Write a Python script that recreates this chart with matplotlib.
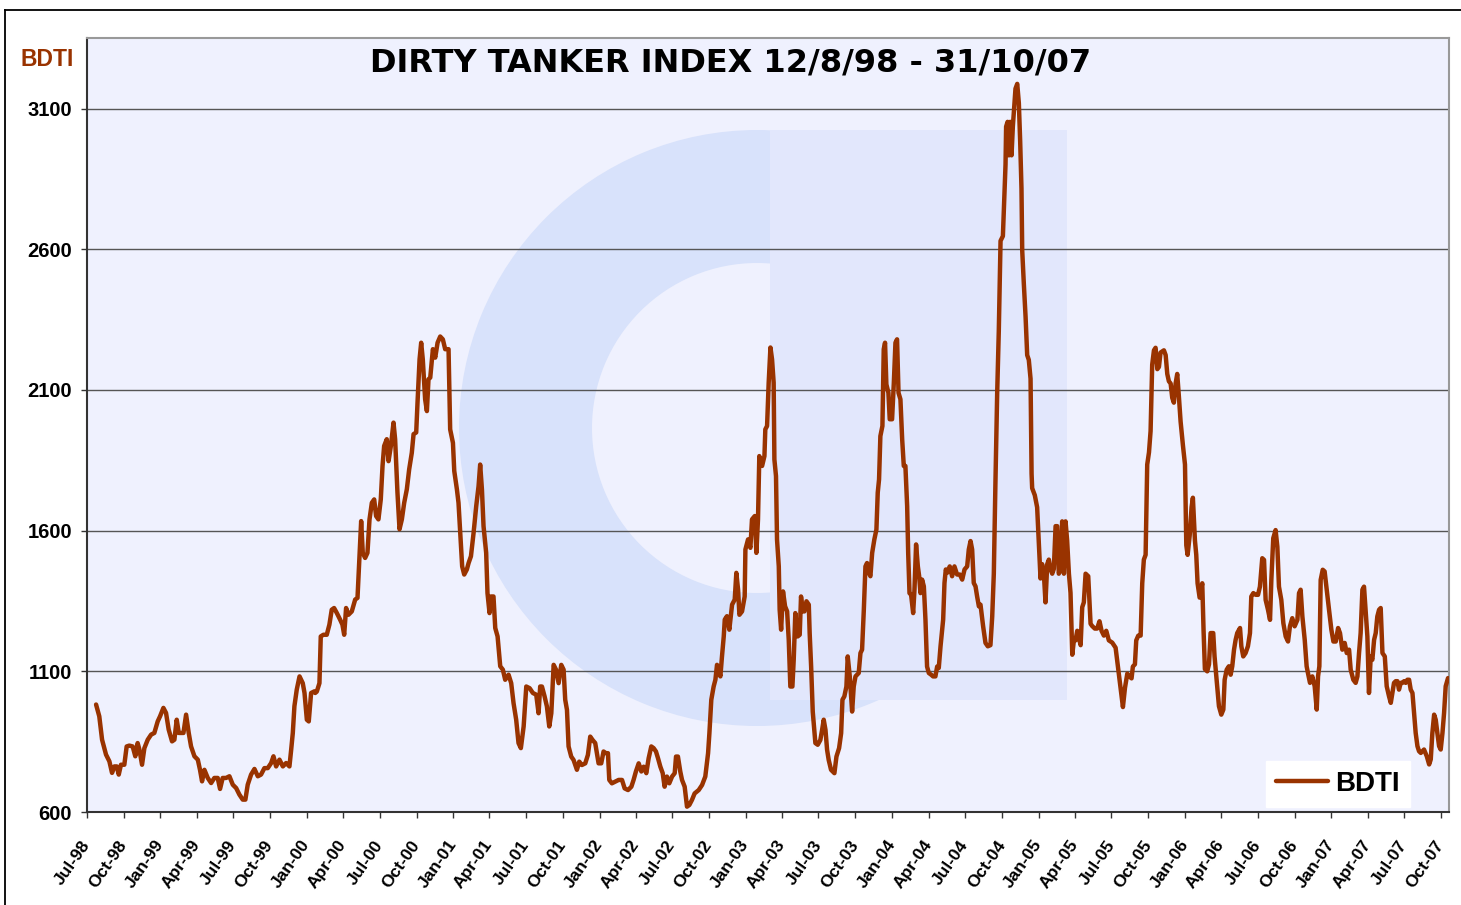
import matplotlib
matplotlib.use('Agg')
import matplotlib.pyplot as plt
import matplotlib.dates as mdates
from matplotlib.patches import Wedge, Rectangle
from matplotlib.lines import Line2D
from matplotlib.transforms import Affine2D
import numpy as np
import pandas as pd

# BDTI weekly values (date as decimal year)
years = [
    1998.564, 1998.586, 1998.605, 1998.632, 1998.655, 1998.673, 1998.689, 1998.705, 1998.719, 1998.734,
    1998.757, 1998.773, 1998.791, 1998.814, 1998.832, 1998.848, 1998.860, 1998.878, 1998.894, 1998.917,
    1998.940, 1998.962, 1998.985, 1999.001, 1999.024, 1999.042, 1999.060, 1999.083, 1999.099, 1999.115,
    1999.129, 1999.145, 1999.161, 1999.179, 1999.197, 1999.213, 1999.236, 1999.259, 1999.274, 1999.288,
    1999.304, 1999.327, 1999.350, 1999.372, 1999.395, 1999.411, 1999.429, 1999.452, 1999.475, 1999.498,
    1999.521, 1999.543, 1999.566, 1999.584, 1999.600, 1999.623, 1999.646, 1999.669, 1999.691, 1999.714,
    1999.737, 1999.760, 1999.776, 1999.794, 1999.817, 1999.840, 1999.862, 1999.885, 1999.897, 1999.908,
    1999.919, 1999.935, 1999.954, 1999.976, 1999.988, 2000.004, 2000.017, 2000.033, 2000.056,
    2000.061, 2000.072, 2000.090, 2000.099, 2000.117, 2000.140, 2000.158, 2000.174, 2000.190, 2000.209,
    2000.231, 2000.247, 2000.259, 2000.272, 2000.288, 2000.311, 2000.334, 2000.350, 2000.364, 2000.375,
    2000.386, 2000.402, 2000.418, 2000.432, 2000.448, 2000.464, 2000.477, 2000.493, 2000.509, 2000.521,
    2000.532, 2000.550, 2000.562, 2000.578, 2000.596, 2000.607, 2000.623, 2000.637, 2000.653, 2000.669,
    2000.687, 2000.703, 2000.721, 2000.733, 2000.751, 2000.760, 2000.774, 2000.785, 2000.796, 2000.812,
    2000.824, 2000.835, 2000.847, 2000.865, 2000.881, 2000.897, 2000.915, 2000.933, 2000.949, 2000.972,
    2000.983, 2001.002, 2001.011, 2001.029, 2001.040, 2001.052, 2001.065, 2001.079, 2001.097, 2001.109,
    2001.125, 2001.143, 2001.161, 2001.177, 2001.188, 2001.200, 2001.211, 2001.229, 2001.238, 2001.252,
    2001.261, 2001.279, 2001.291, 2001.307, 2001.325, 2001.343, 2001.359, 2001.382, 2001.400, 2001.416,
    2001.434, 2001.450, 2001.466, 2001.485, 2001.503, 2001.526, 2001.548, 2001.571, 2001.587, 2001.598,
    2001.610, 2001.628, 2001.644, 2001.660, 2001.674, 2001.690, 2001.706, 2001.724, 2001.742, 2001.758,
    2001.769, 2001.781, 2001.792, 2001.810, 2001.826, 2001.849, 2001.865, 2001.883, 2001.906, 2001.924,
    2001.940, 2001.956, 2001.974, 2001.997, 2002.015, 2002.031, 2002.047, 2002.061, 2002.070, 2002.088,
    2002.111, 2002.134, 2002.157, 2002.175, 2002.198, 2002.221, 2002.236, 2002.252, 2002.271, 2002.289,
    2002.305, 2002.323, 2002.339, 2002.357, 2002.373, 2002.389, 2002.403, 2002.419, 2002.435, 2002.448,
    2002.464, 2002.480, 2002.499, 2002.517, 2002.526, 2002.539, 2002.555, 2002.567, 2002.585, 2002.601,
    2002.617, 2002.635, 2002.653, 2002.681, 2002.704, 2002.726, 2002.745, 2002.754, 2002.767, 2002.783,
    2002.795, 2002.806, 2002.817, 2002.829, 2002.840, 2002.852, 2002.859, 2002.874, 2002.890, 2002.909,
    2002.927, 2002.938, 2002.950, 2002.959, 2002.977, 2002.995, 2003.000, 2003.018, 2003.034, 2003.045,
    2003.064, 2003.075, 2003.086, 2003.095,
    2003.114, 2003.130, 2003.136, 2003.148, 2003.159, 2003.171, 2003.182, 2003.193, 2003.198, 2003.209,
    2003.216, 2003.228, 2003.234, 2003.244, 2003.257, 2003.271, 2003.285, 2003.296, 2003.307, 2003.321,
    2003.330, 2003.341, 2003.357, 2003.371, 2003.380, 2003.392, 2003.403, 2003.417, 2003.433, 2003.439,
    2003.449, 2003.460, 2003.478, 2003.494, 2003.512, 2003.524, 2003.535, 2003.547, 2003.558, 2003.569,
    2003.585, 2003.608, 2003.622, 2003.640, 2003.654, 2003.663, 2003.676, 2003.690, 2003.699, 2003.713,
    2003.729, 2003.740, 2003.752, 2003.774, 2003.786, 2003.797, 2003.809, 2003.820, 2003.831, 2003.843,
    2003.854, 2003.866, 2003.881, 2003.895, 2003.904, 2003.913, 2003.922, 2003.936, 2003.945, 2003.954,
    2003.963, 2003.977, 2003.986, 2004.002, 2004.014, 2004.025, 2004.036, 2004.046, 2004.059, 2004.071,
    2004.082, 2004.093, 2004.105, 2004.112, 2004.121, 2004.132, 2004.146, 2004.155, 2004.166, 2004.178,
    2004.187, 2004.196, 2004.207, 2004.219, 2004.230, 2004.241, 2004.253, 2004.269, 2004.282, 2004.298,
    2004.310, 2004.321, 2004.333, 2004.351, 2004.360, 2004.369, 2004.378, 2004.396, 2004.412, 2004.428,
    2004.446, 2004.465, 2004.481, 2004.497, 2004.515, 2004.526, 2004.538, 2004.549, 2004.560, 2004.572,
    2004.583, 2004.595, 2004.606, 2004.624, 2004.640, 2004.656,
    2004.674, 2004.686, 2004.697, 2004.708, 2004.720, 2004.731, 2004.743, 2004.759, 2004.765, 2004.777,
    2004.781, 2004.791, 2004.800, 2004.809, 2004.818, 2004.827, 2004.836, 2004.845, 2004.857, 2004.868,
    2004.877, 2004.886, 2004.891, 2004.902, 2004.914, 2004.925, 2004.936, 2004.948, 2004.955, 2004.959,
    2004.977, 2004.993, 2005.005, 2005.016, 2005.027, 2005.039, 2005.050, 2005.062, 2005.073, 2005.084,
    2005.096, 2005.107, 2005.119, 2005.130, 2005.141, 2005.153, 2005.164, 2005.176, 2005.187, 2005.198,
    2005.210, 2005.221, 2005.233, 2005.244, 2005.255, 2005.267, 2005.290, 2005.301, 2005.312, 2005.324,
    2005.342, 2005.358, 2005.369, 2005.387, 2005.403, 2005.419, 2005.433, 2005.449, 2005.465, 2005.483,
    2005.506, 2005.529, 2005.547, 2005.563, 2005.579, 2005.593, 2005.609, 2005.620, 2005.638, 2005.647,
    2005.661, 2005.670, 2005.684, 2005.700, 2005.711, 2005.722, 2005.734, 2005.745, 2005.757, 2005.768,
    2005.779, 2005.791, 2005.802, 2005.814, 2005.825, 2005.836, 2005.859, 2005.871, 2005.882, 2005.893,
    2005.905, 2005.916, 2005.927, 2005.939, 2005.950, 2005.962, 2005.973, 2005.989, 2006.003, 2006.012,
    2006.021, 2006.035, 2006.048, 2006.057, 2006.071, 2006.080, 2006.089, 2006.103, 2006.121, 2006.130,
    2006.139, 2006.155, 2006.167,
    2006.178, 2006.196, 2006.205, 2006.219, 2006.235, 2006.251, 2006.265, 2006.274, 2006.288, 2006.303,
    2006.315, 2006.326, 2006.338, 2006.349, 2006.360, 2006.379, 2006.388, 2006.401, 2006.417, 2006.433,
    2006.447, 2006.456, 2006.470, 2006.486, 2006.502, 2006.515, 2006.531, 2006.543, 2006.554, 2006.570,
    2006.584, 2006.593, 2006.606, 2006.622, 2006.634, 2006.645, 2006.661, 2006.675, 2006.691, 2006.707,
    2006.720, 2006.736, 2006.752, 2006.771, 2006.782, 2006.793, 2006.805, 2006.821, 2006.834, 2006.843,
    2006.857, 2006.873, 2006.889, 2006.903, 2006.912, 2006.921, 2006.930, 2006.944, 2006.957, 2006.971,
    2006.987, 2007.003, 2007.017, 2007.033, 2007.049, 2007.062, 2007.078, 2007.094, 2007.108, 2007.124,
    2007.135, 2007.153, 2007.169, 2007.181, 2007.192, 2007.203, 2007.215, 2007.226, 2007.238, 2007.249,
    2007.260, 2007.272, 2007.283, 2007.295, 2007.306, 2007.317, 2007.329, 2007.340, 2007.352, 2007.368,
    2007.381, 2007.397, 2007.409, 2007.420, 2007.431, 2007.443, 2007.454, 2007.465, 2007.477, 2007.488,
    2007.500, 2007.511, 2007.522, 2007.534, 2007.545, 2007.557, 2007.568, 2007.579, 2007.591, 2007.602,
    2007.614, 2007.636, 2007.655, 2007.671, 2007.682, 2007.693, 2007.705, 2007.716, 2007.727, 2007.739,
    2007.750, 2007.762, 2007.773, 2007.784, 2007.800,
]

bdti = [
    982, 940, 857, 804, 780, 739, 762, 762, 733, 768,
    768, 833, 836, 833, 798, 845, 822, 768, 827, 857,
    875, 881, 922, 940, 970, 952, 893, 851, 857, 928,
    881, 881, 881, 946, 881, 833, 798, 786, 750, 709,
    750, 721, 703, 721, 721, 682, 721, 721, 727, 697,
    685, 662, 644, 644, 697, 733, 753, 727, 733, 756,
    756, 774, 798, 762, 786, 762, 774, 762, 822, 881,
    976, 1035, 1082, 1058, 1023, 928, 922, 1023, 1029,
    1023, 1028, 1058, 1224, 1230, 1230, 1266, 1319, 1325, 1307,
    1284, 1266, 1230, 1325, 1301, 1313, 1355, 1361, 1515, 1634,
    1521, 1503, 1521, 1640, 1699, 1711, 1652, 1640, 1711, 1830,
    1901, 1925, 1847, 1901, 1984, 1925, 1735, 1605, 1640, 1699,
    1747, 1818, 1877, 1943, 1949, 2055, 2209, 2268, 2209, 2067,
    2025, 2138, 2144, 2245, 2215, 2268, 2290, 2280, 2245, 2245,
    1960, 1912, 1812, 1747, 1699, 1592, 1473, 1444, 1462, 1485,
    1509, 1592, 1687, 1758, 1835, 1747, 1616, 1521, 1378, 1307,
    1366, 1366, 1254, 1224, 1118, 1106, 1070, 1088, 1058, 987,
    928, 845, 827, 904, 1046, 1040, 1023, 1017, 951, 1046,
    1046, 1011, 975, 904, 951, 1123, 1106, 1058, 1123, 1106,
    999, 963, 833, 797, 785, 750, 779, 767, 773, 803,
    868, 856, 845, 773, 773, 815, 809, 809, 714, 702,
    708, 714, 714, 684, 678, 690, 714, 744, 773, 744,
    761, 738, 791, 833, 827, 815, 791, 761, 738, 690,
    726, 702, 726, 738, 797, 797, 744, 714, 690, 619,
    625, 643, 666, 678, 696, 726, 809, 880, 999, 1046,
    1070, 1123, 1106, 1082, 1153, 1224, 1284, 1296, 1248, 1337,
    1355, 1450, 1390, 1301, 1313, 1366, 1533, 1569, 1539, 1640,
    1652, 1521, 1640, 1865,
    1830, 1865, 1960, 1972, 2126, 2251, 2209, 2126, 1853, 1794,
    1568, 1473, 1319, 1248, 1384, 1331, 1313, 1212, 1046, 1046,
    1141, 1307, 1224, 1230, 1366, 1313, 1313, 1349, 1337, 1236,
    1117, 957, 845, 839, 856, 892, 928, 892, 821, 785,
    750, 738, 797, 827, 880, 999, 1011, 1046, 1153, 1082,
    957, 1046, 1082, 1094, 1165, 1177, 1319, 1473, 1485, 1450,
    1438, 1521, 1569, 1604, 1735, 1782, 1936, 1972, 2245, 2268,
    2120, 2090, 1996, 1996, 2126, 2268, 2280, 2090, 2067, 1924,
    1830, 1830, 1687, 1521, 1378, 1372, 1307, 1390, 1551, 1473,
    1438, 1378, 1426, 1402, 1284, 1117, 1094, 1088, 1082, 1082,
    1117, 1112, 1189, 1284, 1414, 1462, 1450, 1473, 1438, 1473,
    1444, 1444, 1426, 1462, 1473, 1533, 1563, 1533, 1414, 1402,
    1366, 1331, 1337, 1260, 1201, 1189,
    1193, 1294, 1447, 1768, 2089, 2309, 2630, 2647, 2731, 2901,
    3036, 3053, 2934, 3053, 2934, 3036, 3103, 3171, 3188, 3120,
    2985, 2816, 2596, 2478, 2360, 2224, 2207, 2140, 1802, 1751,
    1726, 1683, 1548, 1430, 1481, 1447, 1345, 1481, 1497, 1464,
    1447, 1464, 1616, 1616, 1447, 1464, 1633, 1447, 1633, 1565,
    1447, 1379, 1159, 1210, 1210, 1244, 1193, 1328, 1345, 1447,
    1438, 1269, 1261, 1252, 1252, 1278, 1244, 1227, 1244, 1210,
    1202, 1184, 1108, 1041, 973, 1041, 1092, 1083, 1075, 1117,
    1125, 1210, 1227, 1227, 1413, 1497, 1514, 1835, 1878, 1954,
    2190, 2241, 2250, 2174, 2182, 2233, 2241, 2224, 2157, 2131,
    2123, 2072, 2055, 2123, 2157, 2072, 1988, 1903, 1835, 1548,
    1514, 1582, 1683, 1717, 1565, 1514, 1413, 1362, 1413, 1244,
    1108, 1100, 1125,
    1236, 1236, 1153, 1070, 976, 946, 964, 1070, 1106, 1118,
    1088, 1118, 1177, 1212, 1236, 1254, 1189, 1153, 1165, 1189,
    1236, 1366, 1378, 1372, 1372, 1401, 1502, 1496, 1354, 1319,
    1283, 1425, 1573, 1602, 1543, 1401, 1354, 1271, 1224, 1206,
    1260, 1289, 1260, 1283, 1378, 1390, 1295, 1212, 1118, 1094,
    1059, 1082, 1047, 964, 1082, 1118, 1425, 1461, 1455, 1390,
    1319, 1248, 1206, 1206, 1254, 1236, 1177, 1201, 1165, 1177,
    1106, 1070, 1059, 1082, 1165, 1236, 1390, 1401, 1307, 1224,
    1023, 1153, 1141, 1212, 1236, 1295, 1319, 1325, 1165, 1153,
    1047, 1011, 988, 1023, 1059, 1065, 1065, 1035, 1059, 1059,
    1065, 1059, 1070, 1070, 1035, 1023, 952, 881, 834, 816,
    810, 822, 798, 769, 787, 881, 946, 928, 881, 834,
    822, 881, 952, 1047, 1076,
]

y_ticks = [600, 1100, 1600, 2100, 2600, 3100]
title = 'DIRTY TANKER INDEX 12/8/98 - 31/10/07'
series_name = 'BDTI'

line_color = '#993300'
base = pd.Timestamp('1998-07-01')
dates = base + pd.to_timedelta((np.array(years) - 1998.5) * 365.25, unit='D')

W, H = 1461, 905
fig = plt.figure(figsize=(W / 100, H / 100), dpi=100)
fig.patch.set_facecolor('white')
# transform in image pixels (origin top-left) for decoration
pix = Affine2D().scale(1 / W, -1 / H).translate(0, 1) + fig.transFigure

# outer frame of the chart object
fig.add_artist(Line2D([5, 5], [10, 905], transform=pix, color='black', lw=1.3))
fig.add_artist(Line2D([5, 1461], [10, 10], transform=pix, color='black', lw=1.3))

ax = fig.add_axes([86.7 / W, 1 - 812 / H, (1449.3 - 86.7) / W, (812 - 38.3) / H])
ax.set_facecolor('#eff1fe')

# faint logo watermark
ax.add_patch(Wedge((757, 428), 298, 0, 360, width=133, transform=pix,
                   facecolor='#d8e2fb', edgecolor='none', zorder=0.1))
ax.add_patch(Rectangle((770, 130), 297, 570, transform=pix,
                       facecolor='#e2e7fc', edgecolor='none', zorder=0.15))

ax.plot(dates, bdti, color=line_color, lw=3.2, solid_joinstyle='round',
        solid_capstyle='round', label=series_name, zorder=3)

ax.set_ylim(600, 3350)
ax.set_xlim(base, pd.Timestamp('2007-10-22'))
ax.set_yticks(y_ticks)
ax.grid(axis='y', color='#555555', lw=1)
ax.set_axisbelow(True)

ax.xaxis.set_major_locator(mdates.MonthLocator(bymonth=[1, 4, 7, 10]))
ax.xaxis.set_major_formatter(mdates.DateFormatter('%b-%y'))

ax.tick_params(axis='y', direction='out', length=4.5, width=1, color='#333333', pad=6,
               labelsize=14.5)
ax.tick_params(axis='x', direction='out', length=4.5, width=1, color='#333333', pad=17,
               labelsize=12.5)
for lab in ax.get_yticklabels():
    lab.set_fontfamily('Liberation Sans')
    lab.set_fontweight('bold')
for lab in ax.get_xticklabels():
    lab.set_fontfamily('Liberation Sans')
    lab.set_fontweight('bold')
    lab.set_rotation(55)
    lab.set_ha('right')
    lab.set_va('center')
    lab.set_rotation_mode('anchor')

for side in ['left', 'bottom']:
    ax.spines[side].set_color('#333333')
    ax.spines[side].set_linewidth(1.5)
for side in ['top', 'right']:
    ax.spines[side].set_color('#999999')
    ax.spines[side].set_linewidth(1.5)

fig.text(0.5, 1 - 63 / H, title, ha='center', va='center', fontsize=23,
         fontweight='bold', family='DejaVu Sans', color='black')
fig.text(21 / W, 1 - 60 / H, series_name, ha='left', va='center', fontsize=16.5,
         fontweight='bold', family='Liberation Sans', color=line_color)

leg = ax.legend(loc='lower right', bbox_to_anchor=(0.971, 0.007), borderaxespad=0,
                frameon=True, fancybox=False, framealpha=1, facecolor='white',
                edgecolor='white', handlelength=1.9, handletextpad=0.25,
                borderpad=0.35, prop={'family': 'Liberation Sans', 'weight': 'bold', 'size': 20})

fig.savefig('out.png', dpi=100)
